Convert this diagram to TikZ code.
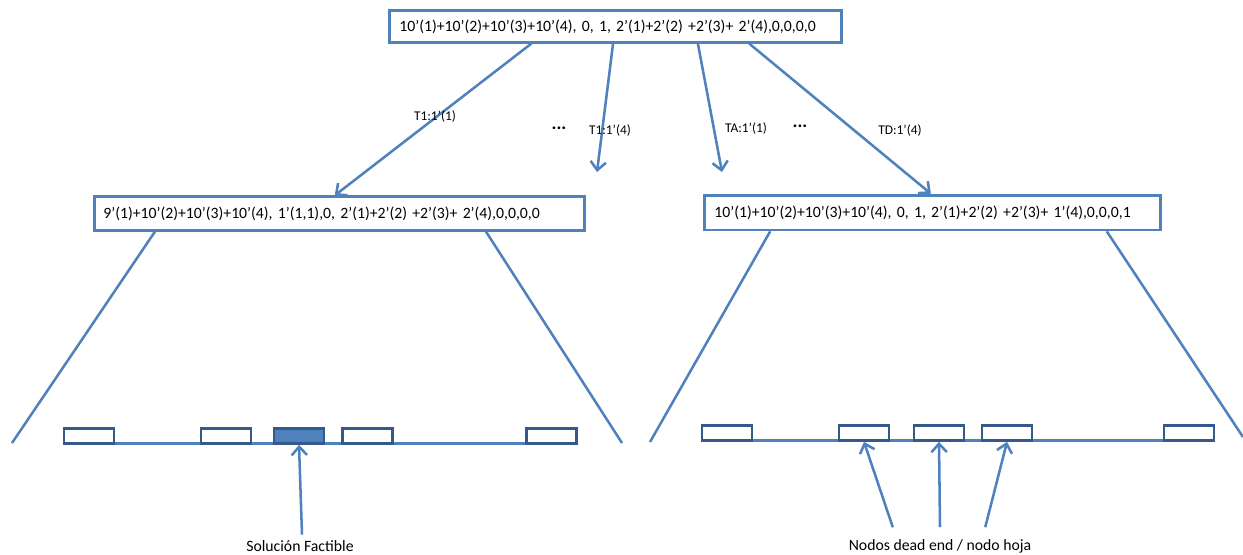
\documentclass[tikz,border=0pt]{standalone}
\usepackage{fontspec}
\setmainfont{Carlito}
\usetikzlibrary{arrows.meta,backgrounds}
\definecolor{lineblue}{HTML}{4F81BD}
\definecolor{darkblue}{HTML}{35598A}
\frenchspacing
\newcommand{\boxfont}{\fontsize{11.2}{13}\selectfont\spaceskip=0.18em plus 0.1em\relax}
\begin{document}
\begin{tikzpicture}[x=0.025cm, y=-0.025cm, line width=1.8pt, draw=lineblue,
  state/.style = {draw=lineblue, line width=2pt, fill=white, font=\boxfont, align=left, inner xsep=5.5pt, inner ysep=0pt, anchor=west},
  leaf/.style = {draw=darkblue, line width=1.8pt, fill=white, minimum width=1.25cm, minimum height=0.38cm, inner sep=0pt},
  lbl/.style = {font=\fontsize{9.5}{11}\selectfont},
  note/.style = {font=\fontsize{11.2}{13}\selectfont},
  arr/.style = {lineblue, line width=1.8pt, -{Straight Barb[length=6pt,width=11pt,line width=1.8pt]}}]
\useasboundingbox (0,0) rectangle (1243,554);
\node[state, minimum width=11.3cm, minimum height=0.78cm, text width=10.8cm] (root) at (388,26.5) {10’(1)+10’(2)+10’(3)+10’(4), 0, 1, 2’(1)+2’(2) +2’(3)+ 2’(4),0,0,0,0};
\node[state, minimum width=12.25cm, minimum height=0.83cm, text width=11.8cm] (left) at (93,213.5) {9’(1)+10’(2)+10’(3)+10’(4), 1’(1,1),0, 2’(1)+2’(2) +2’(3)+ 2’(4),0,0,0,0};
\node[state, minimum width=11.4cm, minimum height=0.87cm, text width=10.9cm] (right) at (703,212.5) {10’(1)+10’(2)+10’(3)+10’(4), 0, 1, 2’(1)+2’(2) +2’(3)+ 1’(4),0,0,0,1};
% edges from the root
\coordinate (e2) at (597,172);
\coordinate (e3) at (722,172);
\draw[arr] ([xshift=-2.1cm]root.south) -- ([xshift=-0.12cm]left.north);
\draw[arr] ([xshift=-0.06cm]root.south) -- (e2);
\draw[arr] ([xshift=2.06cm]root.south) -- (e3);
\draw[arr] ([xshift=3.34cm]root.south) -- ([xshift=-0.04cm]right.north);
\node[lbl] (t1) at (435,117) {T1:1’(1)};
\node[lbl] (t2) at (610,131) {T1:1’(4)};
\node[lbl] (t3) at (746,129) {TA:1’(1)};
\node[lbl] (t4) at (900,131) {TD:1’(4)};
\node[font=\fontsize{13}{15}\bfseries] (d1) at (559,128) {...};
\node[font=\fontsize{13}{15}\bfseries] (d2) at (800,126) {...};
% left subtree
\draw[lineblue] ([xshift=1.55cm]left.south west) -- (12,443);
\draw[lineblue] ([xshift=-2.5cm]left.south east) -- (622,443);
\node[leaf] (l1) at (89,436) {};
\node[leaf] (l2) at (226,436) {};
\node[leaf, fill=lineblue] (l3) at (299,436) {};
\node[leaf] (l4) at (367.5,436) {};
\node[leaf] (l5) at (551.5,436) {};
\begin{scope}[on background layer]
\draw[lineblue, line width=1.8pt] ([yshift=0.03cm]l1.south) -- ([yshift=0.03cm]l5.south);
\end{scope}
\node[note] (sol) at (300,546) {Solución Factible};
\draw[arr] ([xshift=0.05cm]sol.north) -- (l3.south);
% right subtree
\draw[lineblue] ([xshift=1.68cm]right.south west) -- (650,442);
\draw[lineblue] ([xshift=-1.38cm]right.south east) -- (1243,437);
\node[leaf] (r1) at (727,433) {};
\node[leaf] (r2) at (864,433) {};
\node[leaf] (r3) at (939,433) {};
\node[leaf] (r4) at (1007,433) {};
\node[leaf] (r5) at (1189,433) {};
\begin{scope}[on background layer]
\draw[lineblue, line width=1.8pt] ([yshift=0.03cm]r1.south) -- ([yshift=0.03cm]r5.south);
\end{scope}
\node[note] (dead) at (940,546) {Nodos dead end / nodo hoja};
\draw[arr] ([xshift=-1.18cm, yshift=0.15cm]dead.north) -- (r2.south);
\draw[arr] ([yshift=0.15cm]dead.north) -- (r3.south);
\draw[arr] ([xshift=1.13cm, yshift=0.15cm]dead.north) -- (r4.south);
\end{tikzpicture}
\end{document}
